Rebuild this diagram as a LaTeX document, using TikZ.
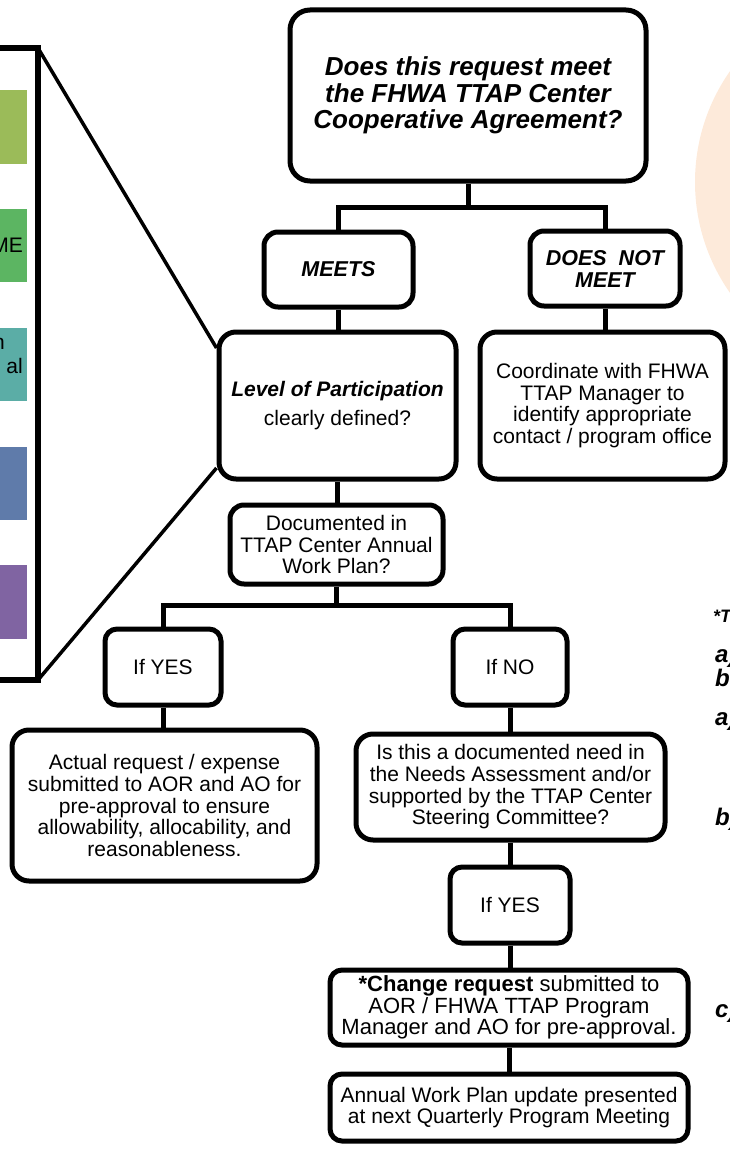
\documentclass[tikz,border=0pt]{standalone}
\usepackage{fontspec}
\setmainfont{Liberation Sans}
\definecolor{peach}{RGB}{253,234,218}
\definecolor{cA}{RGB}{155,187,89}
\definecolor{cB}{RGB}{92,181,98}
\definecolor{cC}{RGB}{91,173,166}
\definecolor{cD}{RGB}{95,123,170}
\definecolor{cE}{RGB}{128,100,162}
\begin{document}
\begin{tikzpicture}[x=1pt,y=-1pt,
  box/.style={draw=black, line width=5pt, rounded corners=17pt, align=center, inner sep=0pt, fill=white},
  conn/.style={draw=black, line width=5pt},
  nf/.style={font=\fontsize{21}{21.7}\selectfont},
  bi/.style={font=\fontsize{21.5}{22}\selectfont\bfseries\itshape},
  side/.style={font=\fontsize{24}{24}\selectfont\bfseries\itshape, anchor=base west, inner sep=0pt},
  paneltxt/.style={font=\fontsize{21}{21}\selectfont, anchor=base east, inner sep=0pt}]
\useasboundingbox (0,0) rectangle (730,1153);
\clip (0,0) rectangle (730,1153);
% peach circle
\fill[peach] (888,182) circle[radius=193];
% left panel
\fill[cA] (-10,90) rectangle (27,164);
\fill[cB] (-10,209) rectangle (27,282);
\fill[cC] (-10,328) rectangle (27,401);
\fill[cD] (-10,447) rectangle (27,520);
\fill[cE] (-10,565) rectangle (27,639);
\node[paneltxt] (tme) at (23,252) {ME};
\node[paneltxt] (tn) at (5,349) {n};
\node[paneltxt] (tal) at (23,373) {al};
\node[draw, line width=5.5pt, minimum width=58, minimum height=632, inner sep=0pt, outer sep=0pt, anchor=north east] (panel) at (38,48) {};
% boxes
\node[box, minimum width=356, minimum height=171, rounded corners=20pt, font=\fontsize{26}{26.5}\selectfont\bfseries\itshape] (top) at (468,95.5) {Does this request meet\\the FHWA TTAP Center\\Cooperative Agreement?};
\node[box, bi, minimum width=149, minimum height=75, rounded corners=14pt] (meets) at (338.5,269.5) {MEETS};
\node[box, bi, minimum width=150, minimum height=75, rounded corners=14pt] (dnm) at (605,268.5) {DOES~~NOT\\MEET};
\node[box, nf, minimum width=237, minimum height=147] (level) at (337.5,405.5) {\textbf{\textit{Level of Participation}}\\[8pt]clearly defined?};
\node[box, nf, minimum width=245, minimum height=147] (coord) at (602.5,405.5) {Coordinate with FHWA\\TTAP Manager to\\identify appropriate\\contact / program office};
\node[box, nf, minimum width=213, minimum height=79, rounded corners=14pt] (doc) at (336.5,544.5) {Documented in\\TTAP Center Annual\\Work Plan?};
\node[box, nf, minimum width=116, minimum height=76, rounded corners=12pt] (ifyes) at (163,667) {If YES};
\node[box, nf, minimum width=114, minimum height=76, rounded corners=12pt] (ifno) at (510,667) {If NO};
\node[box, nf, minimum width=305, minimum height=151] (actual) at (164.5,805.5) {Actual request / expense\\submitted to AOR and AO for\\pre-approval to ensure\\allowability, allocability, and\\reasonableness.};
\node[box, nf, minimum width=309, minimum height=106] (isthis) at (510.5,787) {Is this a documented need in\\the Needs Assessment and/or\\supported by the TTAP Center\\Steering Committee?};
\node[box, nf, minimum width=120, minimum height=76, rounded corners=12pt] (ifyesb) at (510,905) {If YES};
\node[box, minimum width=358, minimum height=75, rounded corners=12pt, font=\fontsize{22}{21.5}\selectfont] (change) at (509,1007.5) {\textbf{*Change request} submitted to\\AOR / FHWA TTAP Program\\Manager and AO for pre-approval.};
\node[box, nf, minimum width=358, minimum height=67, rounded corners=12pt] (annual) at (509,1107.5) {Annual Work Plan update presented\\at next Quarterly Program Meeting};
% diagonals from panel
\coordinate (dtop) at ([yshift=57.5pt]level.west);
\coordinate (dbot) at ([yshift=-62.5pt]level.west);
\draw[line width=3.5pt] (panel.north east) -- (dtop);
\draw[line width=3.5pt] (panel.south east) -- (dbot);
% connectors
\coordinate (j1) at (468,207);
\draw[conn] (top.south) -- (j1);
\draw[conn] (meets.north) |- (j1) -| (dnm.north);
\draw[conn] (meets.south) -- (meets.south |- level.north);
\draw[conn] (dnm.south) -- (dnm.south |- coord.north);
\draw[conn] (level.south) -- (level.south |- doc.north);
\coordinate (j2) at (336.5,605);
\draw[conn] (doc.south) -- (j2);
\draw[conn] (ifyes.north) |- (j2) -| (ifno.north);
\draw[conn] (ifyes.south) -- (ifyes.south |- actual.north);
\draw[conn] (ifno.south) -- (ifno.south |- isthis.north);
\draw[conn] (isthis.south) -- (isthis.south |- ifyesb.north);
\draw[conn] (ifyesb.south) -- (ifyesb.south |- change.north);
\draw[conn] (change.south) -- (change.south |- annual.north);
% right margin text
\node[side, font=\fontsize{18}{18}\selectfont\bfseries\itshape] (sT) at (713,622) {*T};
\node[side] (sa1) at (715,662) {a)};
\node[side] (sb1) at (715,686) {b};
\node[side] (sa2) at (715,725) {a)};
\node[side] (sb2) at (715,825) {b)};
\node[side] (sc) at (715,1017) {c)};
\end{tikzpicture}
\end{document}
